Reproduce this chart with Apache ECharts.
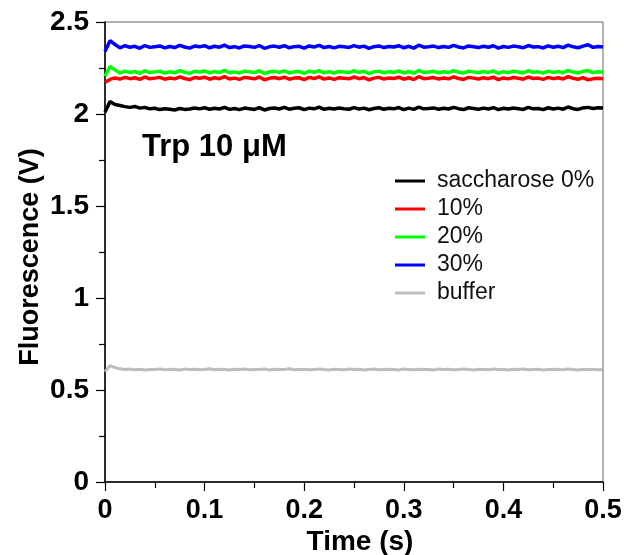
<!DOCTYPE html>
<html>
<head>
<meta charset="utf-8">
<script src="https://cdn.jsdelivr.net/npm/echarts@6/dist/echarts.min.js"></script>
<style>html,body{margin:0;padding:0;background:#fff}#c{width:624px;height:555px}</style>
</head>
<body>
<div id="c"></div>
<script>
var time = [0,0.005,0.01,0.015,0.02,0.025,0.03,0.035,0.04,0.045,
0.05,0.055,0.06,0.065,0.07,0.075,0.08,0.085,0.09,0.095,
0.1,0.105,0.11,0.115,0.12,0.125,0.13,0.135,0.14,0.145,
0.15,0.155,0.16,0.165,0.17,0.175,0.18,0.185,0.19,0.195,
0.2,0.205,0.21,0.215,0.22,0.225,0.23,0.235,0.24,0.245,
0.25,0.255,0.26,0.265,0.27,0.275,0.28,0.285,0.29,0.295,
0.3,0.305,0.31,0.315,0.32,0.325,0.33,0.335,0.34,0.345,
0.35,0.355,0.36,0.365,0.37,0.375,0.38,0.385,0.39,0.395,
0.4,0.405,0.41,0.415,0.42,0.425,0.43,0.435,0.44,0.445,
0.45,0.455,0.46,0.465,0.47,0.475,0.48,0.485,0.49,0.495,
0.5];

var sacch0 = [2.010,2.068,2.052,2.046,2.040,2.036,2.041,2.032,2.036,2.028,
2.031,2.024,2.029,2.026,2.022,2.030,2.025,2.027,2.033,2.028,
2.034,2.026,2.031,2.027,2.036,2.025,2.030,2.024,2.032,2.029,
2.025,2.035,2.022,2.030,2.033,2.027,2.036,2.026,2.031,2.034,
2.024,2.032,2.028,2.037,2.025,2.031,2.027,2.033,2.029,2.026,
2.035,2.027,2.032,2.023,2.030,2.034,2.026,2.031,2.028,2.035,
2.024,2.032,2.025,2.037,2.028,2.030,2.033,2.026,2.031,2.027,
2.036,2.029,2.024,2.034,2.030,2.026,2.032,2.027,2.035,2.024,
2.031,2.027,2.033,2.029,2.025,2.036,2.028,2.030,2.024,2.034,
2.027,2.032,2.026,2.038,2.029,2.025,2.033,2.036,2.030,2.034,
2.033];

var sacch10 = [2.172,2.188,2.196,2.190,2.199,2.192,2.197,2.188,2.201,2.191,
2.195,2.199,2.189,2.196,2.191,2.202,2.193,2.187,2.198,2.194,
2.200,2.189,2.197,2.192,2.203,2.190,2.195,2.188,2.199,2.196,
2.191,2.201,2.186,2.194,2.198,2.192,2.200,2.189,2.195,2.197,
2.187,2.199,2.193,2.202,2.190,2.196,2.188,2.197,2.194,2.191,
2.201,2.192,2.198,2.186,2.195,2.199,2.190,2.196,2.193,2.200,
2.189,2.197,2.187,2.203,2.192,2.194,2.198,2.190,2.196,2.191,
2.202,2.193,2.188,2.199,2.195,2.190,2.197,2.192,2.200,2.187,
2.196,2.191,2.198,2.194,2.189,2.201,2.193,2.195,2.188,2.199,
2.192,2.197,2.190,2.203,2.194,2.189,2.198,2.186,2.191,2.194,
2.192];

var sacch20 = [2.205,2.258,2.240,2.222,2.233,2.226,2.231,2.221,2.235,2.225,
2.229,2.233,2.222,2.230,2.224,2.236,2.227,2.221,2.232,2.228,
2.234,2.223,2.231,2.226,2.237,2.224,2.229,2.222,2.233,2.230,
2.225,2.235,2.220,2.228,2.232,2.226,2.234,2.223,2.229,2.231,
2.221,2.233,2.227,2.236,2.224,2.230,2.222,2.231,2.228,2.225,
2.235,2.226,2.232,2.220,2.229,2.233,2.224,2.230,2.227,2.234,
2.223,2.231,2.221,2.237,2.226,2.228,2.232,2.224,2.230,2.225,
2.236,2.227,2.222,2.233,2.229,2.224,2.231,2.226,2.234,2.221,
2.230,2.225,2.232,2.228,2.223,2.235,2.227,2.229,2.222,2.233,
2.226,2.231,2.224,2.237,2.228,2.223,2.232,2.236,2.225,2.230,
2.228];

var sacch30 = [2.340,2.398,2.378,2.360,2.371,2.363,2.368,2.357,2.372,2.362,
2.366,2.370,2.359,2.367,2.361,2.373,2.364,2.358,2.369,2.365,
2.371,2.360,2.368,2.363,2.374,2.361,2.366,2.359,2.370,2.367,
2.362,2.372,2.357,2.365,2.369,2.363,2.371,2.360,2.366,2.368,
2.358,2.370,2.364,2.373,2.361,2.367,2.359,2.368,2.365,2.362,
2.372,2.363,2.369,2.357,2.366,2.370,2.361,2.367,2.364,2.371,
2.360,2.368,2.358,2.374,2.363,2.365,2.369,2.361,2.367,2.362,
2.373,2.364,2.359,2.370,2.366,2.361,2.368,2.363,2.371,2.358,
2.367,2.362,2.369,2.365,2.360,2.372,2.364,2.366,2.359,2.370,
2.363,2.368,2.361,2.374,2.365,2.360,2.369,2.376,2.362,2.367,
2.364];

var buffer = [0.600,0.632,0.622,0.615,0.611,0.614,0.610,0.613,0.609,0.612,
0.611,0.614,0.610,0.613,0.612,0.609,0.614,0.611,0.613,0.610,
0.612,0.615,0.610,0.613,0.611,0.609,0.613,0.612,0.614,0.610,
0.612,0.611,0.614,0.609,0.613,0.611,0.612,0.615,0.610,0.612,
0.613,0.610,0.612,0.614,0.611,0.609,0.613,0.612,0.610,0.614,
0.611,0.613,0.609,0.612,0.614,0.610,0.612,0.613,0.611,0.609,
0.614,0.612,0.610,0.613,0.611,0.612,0.609,0.614,0.611,0.613,
0.610,0.612,0.614,0.611,0.609,0.613,0.612,0.610,0.614,0.611,
0.612,0.609,0.613,0.611,0.614,0.610,0.612,0.613,0.609,0.612,
0.611,0.613,0.610,0.614,0.612,0.609,0.613,0.611,0.612,0.610,
0.612];

var seriesNames = ['saccharose 0%', '10%', '20%', '30%', 'buffer'];
var seriesColors = ['#000000', '#ff0000', '#00ff00', '#0000ff', '#bdbdbd'];
var seriesValues = [sacch0, sacch10, sacch20, sacch30, buffer];
var seriesWidths = [3.5, 3.5, 3.5, 3.5, 3];

var FONT = '"Liberation Sans", Arial, sans-serif';

function pairs(vals) {
  var out = [];
  for (var i = 0; i < time.length && i < vals.length; i++) out.push([time[i], vals[i]]);
  return out;
}

var chart = echarts.init(document.getElementById('c'), null, {renderer: 'canvas'});
chart.setOption({
  animation: false,
  backgroundColor: '#ffffff',
  textStyle: {fontFamily: FONT},
  title: {
    text: 'Trp 10 μM',
    left: 142, top: 132, padding: 0,
    textStyle: {fontFamily: FONT, fontSize: 31, fontWeight: 'bold', color: '#000'}
  },
  legend: {
    orient: 'vertical',
    left: 395, top: 169, padding: 0,
    itemWidth: 30, itemHeight: 3, itemGap: 4,
    icon: 'rect',
    data: seriesNames,
    textStyle: {fontFamily: FONT, fontSize: 23, color: '#111', lineHeight: 24, padding: [0, 0, 0, 7]}
  },
  grid: {
    left: 105, right: 21, top: 22, bottom: 73,
    outerBoundsMode: 'none', containLabel: false,
    show: true, borderColor: '#666', borderWidth: 1, backgroundColor: 'transparent'
  },
  xAxis: {
    type: 'value', min: 0, max: 0.5, interval: 0.1,
    name: 'Time (s)', nameLocation: 'middle', nameGap: 46, nameMoveOverlap: false,
    nameTextStyle: {fontFamily: FONT, fontSize: 28, fontWeight: 'bold', color: '#000', padding: [0, 0, 0, 12]},
    axisLine: {show: true, lineStyle: {color: '#000', width: 1.5}},
    axisTick: {show: true, inside: false, length: 9, lineStyle: {color: '#000', width: 1.2}},
    minorTick: {show: true, splitNumber: 2, length: 6, lineStyle: {color: '#000', width: 1.2}},
    splitLine: {show: false},
    axisLabel: {fontFamily: FONT, fontSize: 27, fontWeight: 'bold', color: '#000', margin: 15,
      formatter: function (v) { return String(Math.round(v * 10) / 10); }}
  },
  yAxis: {
    type: 'value', min: 0, max: 2.5, interval: 0.5,
    name: 'Fluorescence (V)', nameLocation: 'middle', nameGap: 61, nameRotate: 90, nameMoveOverlap: false,
    nameTextStyle: {fontFamily: FONT, fontSize: 27, fontWeight: 'bold', color: '#000', padding: [0, 10, 0, 0]},
    axisLine: {show: true, lineStyle: {color: '#000', width: 1.5}},
    axisTick: {show: true, inside: false, length: 9, lineStyle: {color: '#000', width: 1.2}},
    minorTick: {show: true, splitNumber: 2, length: 6, lineStyle: {color: '#000', width: 1.2}},
    splitLine: {show: false},
    axisLabel: {fontFamily: FONT, fontSize: 28, fontWeight: 'bold', color: '#000', margin: 16,
      formatter: function (v) { return String(Math.round(v * 10) / 10); }}
  },
  series: seriesNames.map(function (n, i) {
    return {
      name: n, type: 'line', data: pairs(seriesValues[i]),
      showSymbol: false, symbol: 'none',
      lineStyle: {color: seriesColors[i], width: seriesWidths[i]},
      itemStyle: {color: seriesColors[i]},
      z: 2
    };
  })
});
</script>
</body>
</html>
